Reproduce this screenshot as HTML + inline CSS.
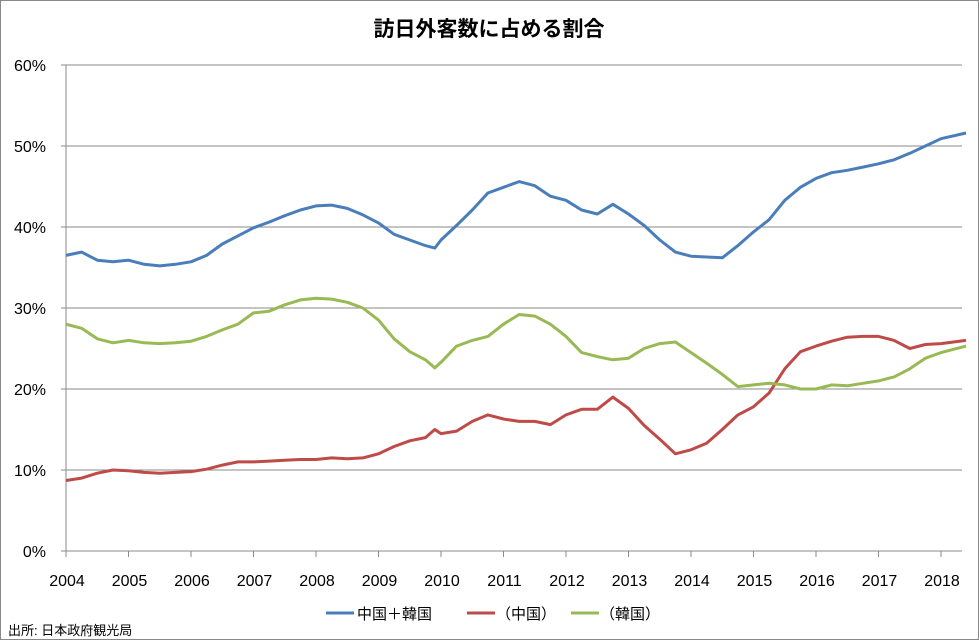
<!DOCTYPE html>
<html><head><meta charset="utf-8"><style>
html,body{margin:0;padding:0;background:#fff}
svg{display:block;font-family:"Liberation Sans","Noto Sans CJK JP",sans-serif}
</style></head><body>
<svg width="979" height="640">
<rect x="0.5" y="0.5" width="978" height="639" fill="#fff" stroke="#888"/>
<text x="489" y="36" text-anchor="middle" font-size="21" font-weight="bold" fill="#000">訪日外客数に占める割合</text>
<g id="grid"></g>
<g id="series"></g>
<g id="legend">
<line x1="326" y1="613" x2="354" y2="613" stroke="#4a7ebb" stroke-width="3"/>
<text x="357" y="619" font-size="15">中国＋韓国</text>
<line x1="467" y1="613" x2="495" y2="613" stroke="#be4b48" stroke-width="3"/>
<text x="496" y="619" font-size="15">（中国）</text>
<line x1="571" y1="613" x2="599" y2="613" stroke="#98b954" stroke-width="3"/>
<text x="600" y="619" font-size="15">（韓国）</text>
</g>
<text x="8" y="635" font-size="13">出所: 日本政府観光局</text>
</svg>
<script>
const years=[2004,2005,2006,2007,2008,2009,2010,2011,2012,2013,2014,2015,2016,2017,2018];
const yTicks=[0,10,20,30,40,50,60];
const times=[2004,2004.25,2004.5,2004.75,2005,2005.25,2005.5,2005.75,2006,2006.25,2006.5,2006.75,2007,2007.25,2007.5,2007.75,2008,2008.25,2008.5,2008.75,2009,2009.25,2009.5,2009.75,2009.9,2010,2010.25,2010.5,2010.75,2011,2011.25,2011.5,2011.75,2012,2012.25,2012.5,2012.75,2013,2013.25,2013.5,2013.75,2014,2014.25,2014.5,2014.75,2015,2015.25,2015.5,2015.75,2016,2016.25,2016.5,2016.75,2017,2017.25,2017.5,2017.75,2018,2018.4];
const sumVals=[36.5,36.9,35.9,35.7,35.9,35.4,35.2,35.4,35.7,36.5,37.9,38.9,39.9,40.6,41.4,42.1,42.6,42.7,42.3,41.5,40.5,39.1,38.4,37.7,37.4,38.4,40.2,42.1,44.2,44.9,45.6,45.1,43.8,43.3,42.1,41.6,42.8,41.6,40.2,38.4,36.9,36.4,36.3,36.2,37.7,39.4,40.9,43.3,44.9,46.0,46.7,47.0,47.4,47.8,48.3,49.1,50.0,50.9,51.6];
const chinaVals=[8.7,9.0,9.6,10.0,9.9,9.7,9.6,9.7,9.8,10.1,10.6,11.0,11.0,11.1,11.2,11.3,11.3,11.5,11.4,11.5,12.0,12.9,13.6,14.0,15.0,14.5,14.8,16.0,16.8,16.3,16.0,16.0,15.6,16.8,17.5,17.5,19.0,17.6,15.5,13.8,12.0,12.5,13.3,15.0,16.8,17.8,19.5,22.5,24.6,25.3,25.9,26.4,26.5,26.5,26.0,25.0,25.5,25.6,26.0];
const koreaVals=[28.0,27.5,26.2,25.7,26.0,25.7,25.6,25.7,25.9,26.5,27.3,28.0,29.4,29.6,30.4,31.0,31.2,31.1,30.7,30.0,28.5,26.2,24.6,23.6,22.6,23.3,25.3,26.0,26.5,28.0,29.2,29.0,28.0,26.5,24.5,24.0,23.6,23.8,25.0,25.6,25.8,24.5,23.2,21.8,20.3,20.5,20.7,20.5,20.0,20.0,20.5,20.4,20.7,21.0,21.5,22.5,23.8,24.5,25.3];
const NS='http://www.w3.org/2000/svg';
const X0=66,X1=962,Y0=551,Y60=65;
const xs=t=>X0+(t-2004)*62.5;
const ys=v=>Y0-(v/60)*(Y0-Y60);
function mk(tag,attrs,parent){const e=document.createElementNS(NS,tag);for(const k in attrs)e.setAttribute(k,attrs[k]);parent.appendChild(e);return e;}
const grid=document.getElementById('grid');
yTicks.forEach(v=>{
  const l=mk('line',{x1:X0-5,x2:X1,y1:ys(v),y2:ys(v),stroke:'#8a8a8a','stroke-width':1},grid);
  
  
  const t=mk('text',{x:X0-20,y:ys(v)+6,'text-anchor':'end','font-size':16,fill:'#000'},grid);
  t.textContent=v+'%';
  
  
});
const ax=mk('line',{x1:X0,x2:X0,y1:Y60,y2:Y0,stroke:'#8a8a8a'},grid);


years.forEach(y=>{
  const x=xs(y);
  const tk=mk('line',{x1:x,x2:x,y1:Y0,y2:Y0+6,stroke:'#8a8a8a'},grid);
  
  
  const t=mk('text',{x:x+1,y:Y0+35,'text-anchor':'middle','font-size':16,fill:'#000'},grid);
  t.textContent=y;
  
  
});
const ser=document.getElementById('series');
[[sumVals,'#4a7ebb','line-china-plus-korea'],[chinaVals,'#be4b48','line-china'],[koreaVals,'#98b954','line-korea']].forEach(([vals,c,n])=>{
  const d=vals.map((v,i)=>(i?'L':'M')+xs(times[i]).toFixed(1)+' '+ys(v).toFixed(1)).join(' ');
  const p=mk('path',{d:d,fill:'none',stroke:c,'stroke-width':3,'stroke-linejoin':'round'},ser);
  
  
});
</script>
</body></html>
